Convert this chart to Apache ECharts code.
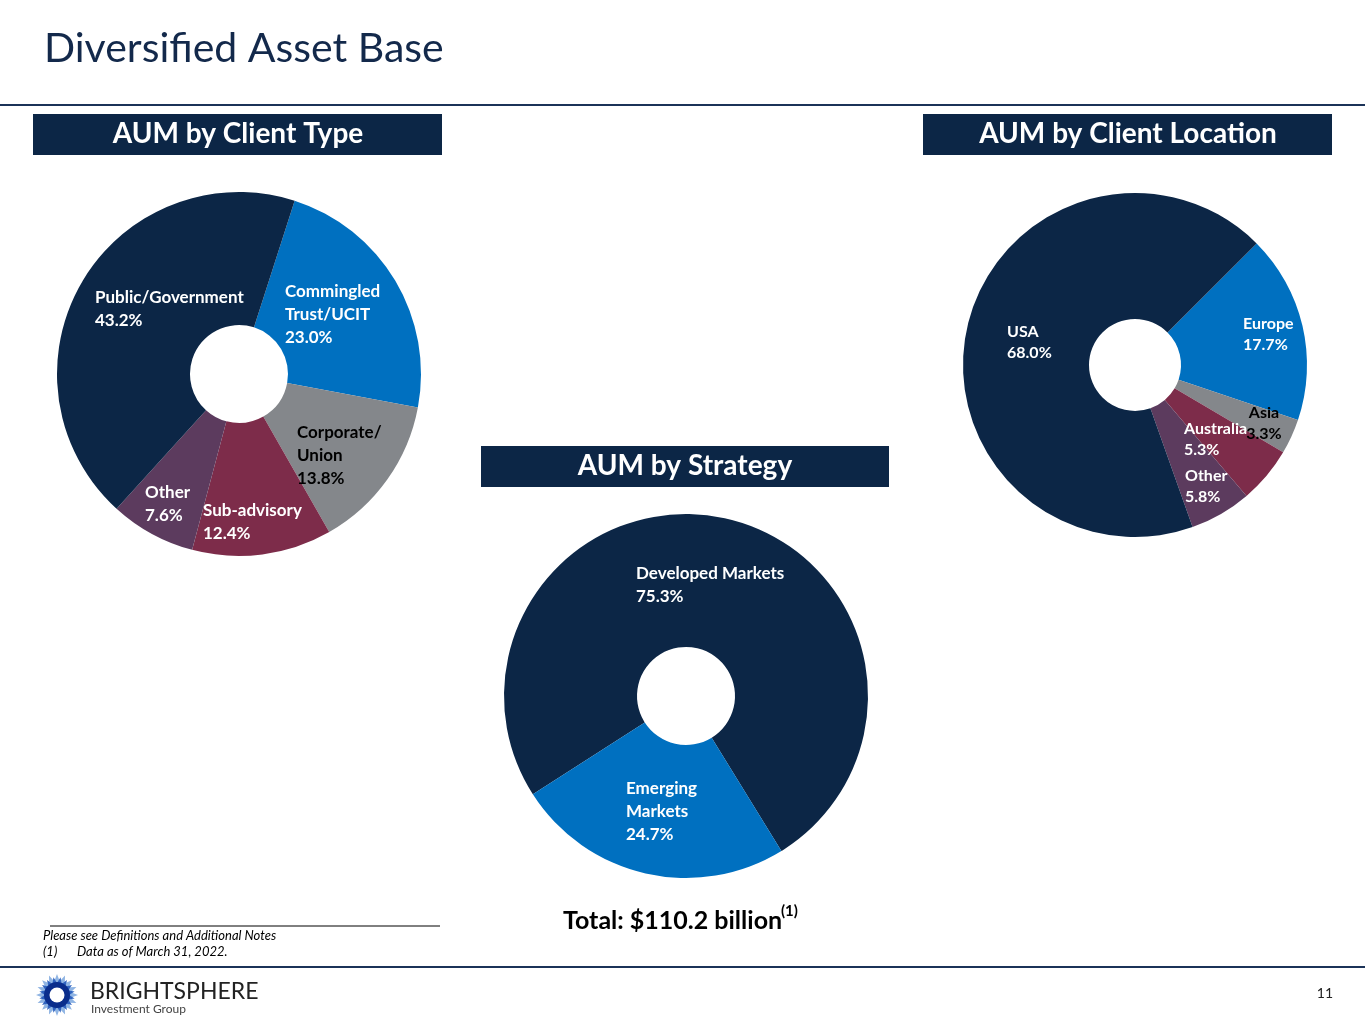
<!DOCTYPE html>
<html>
<head>
<meta charset="utf-8">
<title>Diversified Asset Base</title>
<script src="https://cdn.jsdelivr.net/npm/echarts@6/dist/echarts.min.js"></script>
<style>
  html, body { margin: 0; padding: 0; background: #fff; }
  #chart { width: 1365px; height: 1024px; }
</style>
</head>
<body>
<div id="chart"></div>
<script>
// AUM by client type
var typeNames = ['Commingled\nTrust/UCIT', 'Corporate/\nUnion', 'Sub-advisory', 'Other', 'Public/Government'];
var typeValues = [23.0, 13.8, 12.4, 7.6, 43.2];

// AUM by client location
var locNames = ['Europe', 'Asia', 'Australia', 'Other', 'USA'];
var locValues = [17.7, 3.3, 5.3, 5.8, 68.0];

// AUM by strategy
var stratNames = ['Developed Markets', 'Emerging\nMarkets'];
var stratValues = [75.3, 24.7];

var navy = '#0c2646';
var blue = '#0070c0';
var grey = '#84878b';
var maroon = '#7d2c4a';
var plum = '#5c3b5e';
var font = 'Lato, "Open Sans", sans-serif';

// label anchor points, [x, y, align]
var typeLabelPos = [[285, 280, 'left'], [297, 421, 'left'], [203, 499, 'left'], [145, 481, 'left'], [95, 286, 'left']];
var locLabelPos = [[1243, 313, 'left'], [1264, 402, 'center'], [1184, 418, 'left'], [1185, 465, 'left'], [1007, 321, 'left']];
var stratLabelPos = [[636, 562, 'left'], [626, 777, 'left']];

function toData(names, values, colors, labelColors) {
    return names.map(function (n, i) {
        return {
            name: n,
            value: values[i],
            itemStyle: {color: colors[i]},
            label: {color: labelColors[i]}
        };
    });
}

function layoutFrom(pos) {
    return function (p) {
        var q = pos[p.dataIndex];
        return {x: q[0], y: q[1], align: q[2], verticalAlign: 'top'};
    };
}

var pieLabel = {
    show: true,
    position: 'inside',
    formatter: function (p) { return p.name + '\n' + p.value.toFixed(1) + '%'; },
    fontFamily: font,
    fontWeight: 'bold',
    fontSize: 17,
    lineHeight: 23
};

// sunburst mark for the footer logo
function star(cx, cy, n, r1, r2, rot) {
    var pts = [];
    for (var i = 0; i < n * 2; i++) {
        var a = rot + Math.PI * i / n;
        var r = i % 2 === 0 ? r1 : r2;
        pts.push([cx + r * Math.cos(a), cy + r * Math.sin(a)]);
    }
    return pts;
}

var option = {
    animation: false,
    backgroundColor: '#fff',
    graphic: [
        {type: 'text', x: 44, y: 49, style: {text: 'Diversified Asset Base', font: '41px ' + font, fill: '#13294b', verticalAlign: 'middle'}},
        {type: 'line', shape: {x1: 0, y1: 105, x2: 1365, y2: 105}, style: {stroke: '#1b3358', lineWidth: 2}},

        {type: 'rect', shape: {x: 33, y: 114, width: 409, height: 41}, style: {fill: navy}},
        {type: 'text', x: 238, y: 134, style: {text: 'AUM by Client Type', font: 'bold 28px ' + font, fill: '#fff', align: 'center', verticalAlign: 'middle'}},
        {type: 'rect', shape: {x: 923, y: 114, width: 409, height: 41}, style: {fill: navy}},
        {type: 'text', x: 1128, y: 134, style: {text: 'AUM by Client Location', font: 'bold 28px ' + font, fill: '#fff', align: 'center', verticalAlign: 'middle'}},
        {type: 'rect', shape: {x: 481, y: 446, width: 408, height: 41}, style: {fill: navy}},
        {type: 'text', x: 685, y: 466, style: {text: 'AUM by Strategy', font: 'bold 28px ' + font, fill: '#fff', align: 'center', verticalAlign: 'middle'}},

        {type: 'text', x: 563, y: 921, style: {text: 'Total: $110.2 billion', font: 'bold 25px ' + font, fill: '#000', verticalAlign: 'middle'}},
        {type: 'text', x: 781, y: 911, style: {text: '(1)', font: 'bold 15px ' + font, fill: '#000', verticalAlign: 'middle'}},

        {type: 'line', shape: {x1: 50, y1: 926, x2: 440, y2: 926}, style: {stroke: '#000', lineWidth: 1}},
        {type: 'text', x: 43, y: 936, style: {text: 'Please see Definitions and Additional Notes', font: 'italic 13px ' + font, fill: '#000', verticalAlign: 'middle'}},
        {type: 'text', x: 43, y: 952, style: {text: '(1)', font: 'italic 13px ' + font, fill: '#000', verticalAlign: 'middle'}},
        {type: 'text', x: 77, y: 952, style: {text: 'Data as of March 31, 2022.', font: 'italic 13px ' + font, fill: '#000', verticalAlign: 'middle'}},
        {type: 'line', shape: {x1: 0, y1: 967, x2: 1365, y2: 967}, style: {stroke: '#1b3358', lineWidth: 2}},

        {type: 'polygon', shape: {points: star(57, 995, 16, 21, 14, 0)}, style: {fill: '#8fb4e3'}},
        {type: 'polygon', shape: {points: star(57, 995, 16, 18, 12, Math.PI / 16)}, style: {fill: '#2f63c0'}},
        {type: 'circle', shape: {cx: 57, cy: 995, r: 13}, style: {fill: '#0a2d8c'}},
        {type: 'circle', shape: {cx: 57, cy: 995, r: 7.5}, style: {fill: '#fff'}},
        {type: 'text', x: 90, y: 992, style: {text: 'BRIGHTSPHERE', font: '23px ' + font, fill: '#222', verticalAlign: 'middle'}},
        {type: 'text', x: 91, y: 1009, style: {text: 'Investment Group', font: '12px ' + font, fill: '#444', verticalAlign: 'middle'}},
        {type: 'text', x: 1333, y: 993, style: {text: '11', font: '14px ' + font, fill: '#222', align: 'right', verticalAlign: 'middle'}}
    ],
    series: [
        {
            name: 'AUM by Client Type',
            type: 'pie',
            center: [239, 374],
            radius: [49, 182],
            startAngle: 72.2,
            silent: true,
            label: pieLabel,
            labelLine: {show: false},
            labelLayout: layoutFrom(typeLabelPos),
            data: toData(typeNames, typeValues, [blue, grey, maroon, plum, navy], ['#fff', '#000', '#fff', '#fff', '#fff'])
        },
        {
            name: 'AUM by Client Location',
            type: 'pie',
            center: [1135, 365],
            radius: [46, 172],
            startAngle: 45,
            silent: true,
            label: Object.assign({}, pieLabel, {fontSize: 16, lineHeight: 21}),
            labelLine: {show: false},
            labelLayout: layoutFrom(locLabelPos),
            data: toData(locNames, locValues, [blue, grey, maroon, plum, navy], ['#fff', '#000', '#fff', '#fff', '#fff'])
        },
        {
            name: 'AUM by Strategy',
            type: 'pie',
            center: [686, 696],
            radius: [49, 182],
            startAngle: 212.7,
            silent: true,
            label: pieLabel,
            labelLine: {show: false},
            labelLayout: layoutFrom(stratLabelPos),
            data: toData(stratNames, stratValues, [navy, blue], ['#fff', '#fff'])
        }
    ]
};

var myChart = echarts.init(document.getElementById('chart'));
myChart.setOption(option);
</script>
</body>
</html>
